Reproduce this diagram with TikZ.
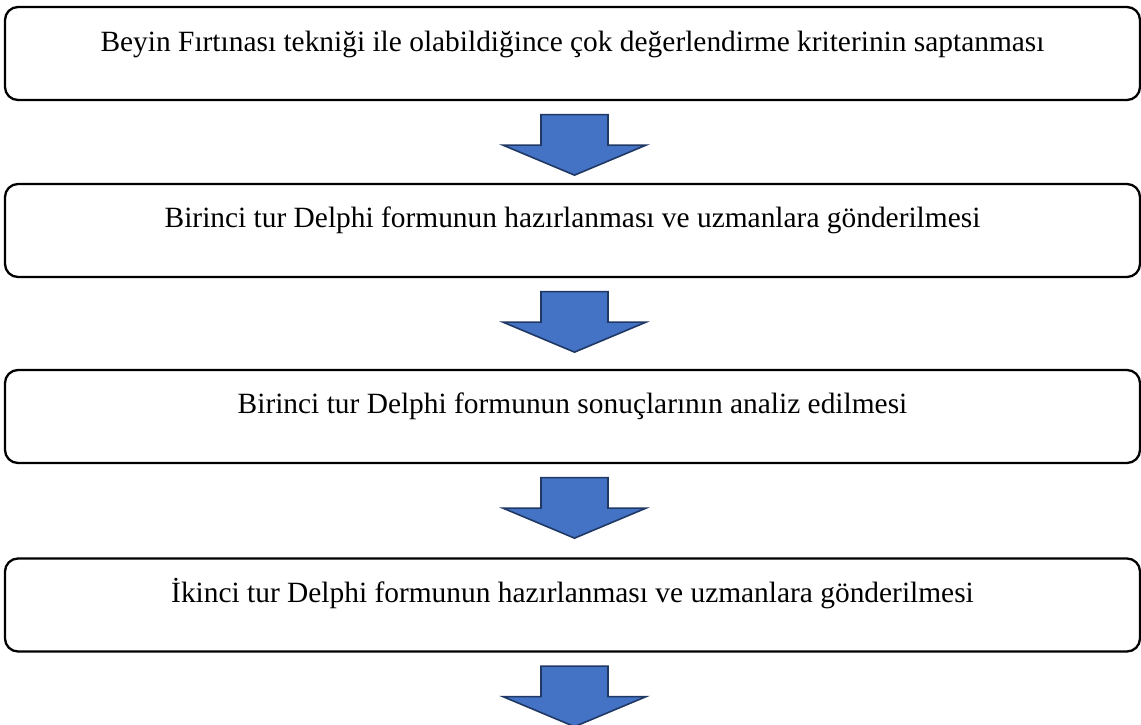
\documentclass[tikz,border=0pt]{standalone}
\usepackage{fontspec}
\setmainfont{Liberation Serif}
\usetikzlibrary{calc}
\definecolor{arrowfill}{HTML}{4472C4}
\definecolor{arrowline}{HTML}{1F3864}
\tikzset{
  stagebox/.style={draw=black, line width=2.3pt, rounded corners=13pt, fill=white,
    minimum width=1135pt, minimum height=93pt, inner sep=0pt},
  stagetext/.style={anchor=base, font=\fontsize{29.4}{35}\selectfont, inner sep=0pt},
  blockarrow/.style={fill=arrowfill, draw=arrowline, line width=1.6pt, line join=miter}
}
\newcommand{\blockdown}[1]{%
  \draw[blockarrow]
    ($(#1.south)+(-31.5,13.5)$) -- ($(#1.south)+(35.5,13.5)$) --
    ($(#1.south)+(35.5,44)$) -- ($(#1.south)+(73.5,44)$) --
    ($(#1.south)+(2,74)$) -- ($(#1.south)+(-69.5,44)$) --
    ($(#1.south)+(-31.5,44)$) -- cycle;}
\begin{document}
\begin{tikzpicture}[x=1pt,y=-1pt]
\useasboundingbox (0,0) rectangle (1141,724);
\node[stagebox] (b1) at (572.5,53.5) {};
\node[stagebox] (b2) at (572.5,230.5) {};
\node[stagebox] (b3) at (572.5,416.5) {};
\node[stagebox] (b4) at (572.5,605) {};
\node[stagetext] (t1) at ($(b1.north)+(0,46)$) {Beyin Fırtınası tekniği ile olabildiğince çok değerlendirme kriterinin saptanması};
\node[stagetext] (t2) at ($(b2.north)+(0,45)$) {Birinci tur Delphi formunun hazırlanması ve uzmanlara gönderilmesi};
\node[stagetext] (t3) at ($(b3.north)+(0,45)$) {Birinci tur Delphi formunun sonuçlarının analiz edilmesi};
\node[stagetext] (t4) at ($(b4.north)+(0,45)$) {İkinci tur Delphi formunun hazırlanması ve uzmanlara gönderilmesi};
\blockdown{b1}
\blockdown{b2}
\blockdown{b3}
\blockdown{b4}
\end{tikzpicture}
\end{document}
